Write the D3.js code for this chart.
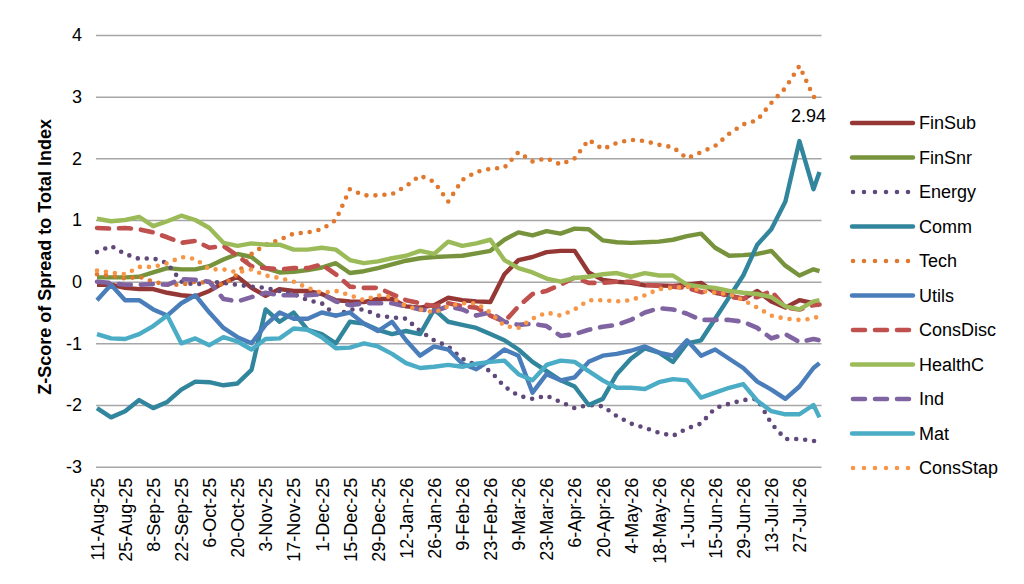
<!DOCTYPE html>
<html>
<head>
<meta charset="utf-8">
<script src="https://cdn.jsdelivr.net/npm/d3@7/dist/d3.min.js"></script>
<style>
body { margin: 0; background: #fff; }
text { font-family: Arial, "Liberation Sans", sans-serif; fill: #000; }
</style>
</head>
<body>
<div id="chart"></div>
<script>
// weekly readings (Mondays, plus the last day)
var weeks = ['11-Aug-25','18-Aug-25','25-Aug-25','1-Sep-25','8-Sep-25','15-Sep-25','22-Sep-25','29-Sep-25',
    '6-Oct-25','13-Oct-25','20-Oct-25','27-Oct-25','3-Nov-25','10-Nov-25','17-Nov-25','24-Nov-25',
    '1-Dec-25','8-Dec-25','15-Dec-25','22-Dec-25','29-Dec-25','5-Jan-26','12-Jan-26','19-Jan-26',
    '26-Jan-26','2-Feb-26','9-Feb-26','16-Feb-26','23-Feb-26','2-Mar-26','9-Mar-26','16-Mar-26',
    '23-Mar-26','30-Mar-26','6-Apr-26','13-Apr-26','20-Apr-26','27-Apr-26','4-May-26','11-May-26',
    '18-May-26','25-May-26','1-Jun-26','8-Jun-26','15-Jun-26','22-Jun-26','29-Jun-26','6-Jul-26',
    '13-Jul-26','20-Jul-26','27-Jul-26','3-Aug-26','6-Aug-26']

var tickLabels = ['11-Aug-25','25-Aug-25','8-Sep-25','22-Sep-25','6-Oct-25','20-Oct-25','3-Nov-25',
    '17-Nov-25','1-Dec-25','15-Dec-25','29-Dec-25','12-Jan-26','26-Jan-26','9-Feb-26','23-Feb-26',
    '9-Mar-26','23-Mar-26','6-Apr-26','20-Apr-26','4-May-26','18-May-26','1-Jun-26','15-Jun-26',
    '29-Jun-26','13-Jul-26','27-Jul-26']

var yTicks = [-3,-2,-1,0,1,2,3,4]

var finSub = [-0.05,-0.05,-0.1,-0.12,-0.12,-0.18,-0.22,-0.24,-0.15,-0.02,0.08,-0.1,-0.23,-0.12,-0.15,-0.15,-0.2,-0.3,-0.32,-0.33,-0.28,-0.28,-0.4,-0.42,-0.38,-0.26,-0.3,-0.32,-0.33,0.12,0.35,0.4,0.48,0.5,0.5,0.15,0.03,0.0,-0.02,-0.06,-0.06,-0.07,-0.05,-0.02,-0.18,-0.22,-0.28,-0.15,-0.32,-0.42,-0.3,-0.35,-0.38]
var finSnr = [0.07,0.07,0.07,0.08,0.15,0.22,0.2,0.2,0.25,0.36,0.45,0.4,0.22,0.15,0.16,0.19,0.23,0.3,0.14,0.17,0.22,0.28,0.34,0.38,0.4,0.41,0.42,0.46,0.5,0.68,0.8,0.75,0.82,0.78,0.86,0.85,0.67,0.64,0.63,0.64,0.65,0.68,0.74,0.78,0.55,0.42,0.43,0.45,0.5,0.26,0.1,0.2,0.17]
var energy = [0.48,0.58,0.45,0.37,0.38,0.3,0.0,-0.05,0.0,-0.02,-0.05,-0.08,-0.1,-0.15,-0.2,-0.3,-0.35,-0.55,-0.45,-0.45,-0.55,-0.58,-0.6,-0.8,-0.95,-1.05,-1.25,-1.35,-1.45,-1.7,-1.85,-1.9,-1.85,-1.95,-2.05,-2.0,-2.02,-2.18,-2.3,-2.37,-2.45,-2.5,-2.38,-2.3,-2.05,-1.98,-1.92,-1.9,-2.3,-2.55,-2.55,-2.58,-2.62]
var comm = [-2.05,-2.2,-2.1,-1.92,-2.05,-1.95,-1.75,-1.62,-1.63,-1.68,-1.65,-1.43,-0.45,-0.65,-0.5,-0.78,-0.85,-1.0,-0.65,-0.68,-0.78,-0.85,-0.8,-0.85,-0.45,-0.65,-0.7,-0.75,-0.85,-0.95,-1.1,-1.3,-1.45,-1.6,-1.7,-2.0,-1.9,-1.5,-1.25,-1.08,-1.15,-1.3,-1.0,-0.95,-0.6,-0.25,0.1,0.6,0.85,1.3,2.28,1.5,1.78]
var tech = [0.12,0.10,0.05,0.08,0.0,-0.05,-0.05,0.0,-0.02,-0.05,0.12,0.45,0.6,0.68,0.78,0.8,0.85,1.0,1.5,1.4,1.4,1.42,1.55,1.72,1.62,1.3,1.65,1.78,1.83,1.85,2.1,1.95,2.0,1.9,2.0,2.3,2.15,2.25,2.3,2.28,2.22,2.18,2.0,2.1,2.2,2.4,2.55,2.62,2.9,3.14,3.5,3.0,2.94]
var utils = [-0.3,-0.05,-0.3,-0.3,-0.45,-0.55,-0.35,-0.22,-0.5,-0.75,-0.9,-1.0,-0.7,-0.5,-0.6,-0.6,-0.5,-0.55,-0.5,-0.68,-0.8,-0.65,-0.95,-1.2,-1.05,-1.1,-1.33,-1.42,-1.27,-1.1,-1.2,-1.8,-1.5,-1.6,-1.55,-1.3,-1.2,-1.17,-1.12,-1.05,-1.15,-1.2,-0.95,-1.2,-1.1,-1.25,-1.4,-1.62,-1.75,-1.9,-1.7,-1.4,-1.32]
var consDisc = [0.87,0.86,0.87,0.85,0.8,0.72,0.63,0.66,0.55,0.58,0.42,0.25,0.22,0.2,0.22,0.22,0.28,0.12,-0.08,-0.1,-0.1,-0.2,-0.3,-0.35,-0.4,-0.35,-0.4,-0.42,-0.55,-0.65,-0.4,-0.2,-0.15,-0.05,0.07,-0.02,-0.02,0.0,0.0,-0.05,-0.07,-0.08,-0.1,-0.17,-0.15,-0.25,-0.27,-0.25,-0.15,-0.42,-0.45,-0.38,-0.37]
var healthC = [1.02,0.98,1.0,1.05,0.9,0.98,1.07,1.0,0.87,0.63,0.58,0.62,0.6,0.6,0.52,0.52,0.55,0.52,0.35,0.3,0.33,0.38,0.42,0.5,0.45,0.65,0.58,0.62,0.68,0.35,0.22,0.15,0.05,0.0,0.06,0.08,0.12,0.14,0.08,0.14,0.1,0.1,-0.05,-0.08,-0.1,-0.15,-0.18,-0.2,-0.25,-0.4,-0.45,-0.32,-0.3]
var ind = [0.0,-0.02,-0.05,-0.05,-0.04,-0.05,0.04,0.03,0.0,-0.28,-0.32,-0.25,-0.18,-0.22,-0.22,-0.22,-0.2,-0.32,-0.38,-0.35,-0.35,-0.35,-0.4,-0.45,-0.48,-0.4,-0.45,-0.55,-0.5,-0.65,-0.7,-0.68,-0.72,-0.88,-0.85,-0.78,-0.73,-0.7,-0.62,-0.5,-0.43,-0.45,-0.52,-0.62,-0.62,-0.62,-0.65,-0.75,-0.92,-0.85,-0.98,-0.93,-0.95]
var mat = [-0.85,-0.92,-0.93,-0.85,-0.72,-0.55,-1.0,-0.92,-1.03,-0.9,-0.97,-1.1,-0.93,-0.92,-0.76,-0.78,-0.9,-1.08,-1.07,-1.0,-1.05,-1.17,-1.32,-1.4,-1.38,-1.35,-1.38,-1.33,-1.3,-1.28,-1.5,-1.6,-1.35,-1.28,-1.3,-1.45,-1.6,-1.72,-1.72,-1.74,-1.63,-1.58,-1.6,-1.88,-1.8,-1.72,-1.66,-1.93,-2.1,-2.15,-2.15,-2.0,-2.2]
var consStap = [0.18,0.15,0.12,0.24,0.24,0.3,0.4,0.37,0.2,0.2,0.15,0.2,0.1,0.06,0.0,-0.1,-0.18,-0.15,-0.22,-0.3,-0.22,-0.25,-0.4,-0.45,-0.5,-0.4,-0.35,-0.35,-0.5,-0.72,-0.75,-0.6,-0.5,-0.55,-0.45,-0.3,-0.3,-0.32,-0.3,-0.22,-0.12,-0.1,-0.08,-0.15,-0.18,-0.2,-0.3,-0.42,-0.55,-0.6,-0.62,-0.6,-0.55]

var seriesNames = ['FinSub','FinSnr','Energy','Comm','Tech','Utils','ConsDisc','HealthC','Ind','Mat','ConsStap']
var seriesValues = [finSub, finSnr, energy, comm, tech, utils, consDisc, healthC, ind, mat, consStap]
var seriesColors = ['#953735','#77933C','#60497A','#31859C','#E0782E','#4A7EBB','#C0504D','#9BBB59','#8064A2','#4BACC6','#F79646']
var seriesStyles = ['solid','solid','dot','solid','dot','solid','dash','solid','dash','solid','dot']

var svgWidth = 1024, svgHeight = 584
var plotLeft = 97, plotRight = 819.5, plotTop = 35, plotBottom = 466.7

var parseDate = d3.timeParse('%d-%b-%y')
var dates = weeks.map(parseDate)

var x = d3.scaleTime()
    .domain([dates[0], dates[dates.length - 1]])
    .range([plotLeft, plotRight])
var y = d3.scaleLinear()
    .domain([-3, 4])
    .range([plotBottom, plotTop])

var svg = d3.select('#chart').append('svg')
    .attr('width', svgWidth)
    .attr('height', svgHeight)

svg.append('rect')
    .attr('width', svgWidth)
    .attr('height', svgHeight)
    .attr('fill', '#fff')

// gridlines + y labels (plain hyphen for the minus, like the original)
var yAxis = svg.append('g')
    .attr('transform', 'translate(' + (plotLeft - 1) + ',0)')
    .call(d3.axisLeft(y).tickValues(yTicks).tickSize(-(plotRight - plotLeft + 3)).tickFormat(function(d) {return String(d);}))
yAxis.select('.domain').remove()
yAxis.selectAll('.tick line')
    .attr('stroke', '#A6A6A6')
    .attr('stroke-width', 1.5)
yAxis.selectAll('.tick text')
    .attr('x', -14)
    .style('font-size', '18px')
    .style('font-family', 'Arial, "Liberation Sans", sans-serif')

// x labels, rotated
var xAxis = svg.append('g')
    .attr('transform', 'translate(0,' + plotBottom + ')')
    .call(d3.axisBottom(x).tickValues(tickLabels.map(parseDate)).tickSize(0).tickFormat(d3.timeFormat('%-d-%b-%y')))
xAxis.select('.domain').remove()
xAxis.selectAll('.tick text')
    .attr('transform', 'rotate(-90)')
    .attr('x', -11)
    .attr('y', 0)
    .attr('dy', '0.35em')
    .attr('text-anchor', 'end')
    .style('font-size', '18px')
    .style('font-family', 'Arial, "Liberation Sans", sans-serif')

svg.append('text')
    .attr('transform', 'translate(51,' + ((plotTop + plotBottom) / 2 + 6) + ') rotate(-90)')
    .attr('text-anchor', 'middle')
    .style('font-size', '18px')
    .style('font-weight', 'bold')
    .text('Z-Score of Spread to Total Index')

function dashFor(style){
    if (style == 'dot') return '0,9'
    if (style == 'dash') return '12,10'
    return null
}

var line = d3.line()
    .x(function(d,i) {return x(dates[i]);})
    .y(function(d) {return y(d);})

var lines = svg.append('g')
lines.selectAll('path')
    .data(seriesValues)
    .enter()
    .append('path')
    .attr('d', function(d) {return line(d);})
    .attr('fill', 'none')
    .attr('stroke', function(d,i) {return seriesColors[i];})
    .attr('stroke-width', function(d,i) {return seriesStyles[i] == 'solid' ? 4.4 : 4.6;})
    .attr('stroke-linecap', function(d,i) {return seriesStyles[i] == 'solid' ? 'butt' : 'round';})
    .attr('stroke-linejoin', 'round')
    .attr('stroke-dasharray', function(d,i) {return dashFor(seriesStyles[i]);})

// data label on the last Tech point
var lastIdx = dates.length - 1
svg.append('text')
    .attr('x', x(dates[lastIdx]) - 11)
    .attr('y', y(tech[lastIdx]) + 22)
    .attr('text-anchor', 'middle')
    .style('font-size', '18px')
    .text(d3.format('.2f')(tech[lastIdx]))

// legend
var legend = svg.append('g')
var items = legend.selectAll('g')
    .data(seriesNames)
    .enter()
    .append('g')
    .attr('transform', function(d,i) {return 'translate(0,' + (123 + i * 34.5) + ')';})
items.append('line')
    .attr('x1', function(d,i) {return seriesStyles[i] == 'solid' ? 852 : 853;})
    .attr('x2', function(d,i) {return seriesStyles[i] == 'solid' ? 913 : 910;})
    .attr('stroke', function(d,i) {return seriesColors[i];})
    .attr('stroke-width', function(d,i) {return seriesStyles[i] == 'solid' ? 4.4 : 4.6;})
    .attr('stroke-linecap', 'round')
    .attr('stroke-dasharray', function(d,i) {
	if (seriesStyles[i] == 'dot') return '0,11';
	if (seriesStyles[i] == 'dash') return '12,10';
	return null;})
items.append('text')
    .attr('x', 919)
    .attr('dy', '0.35em')
    .style('font-size', '18px')
    .text(function(d) {return d;})
</script>
</body>
</html>
